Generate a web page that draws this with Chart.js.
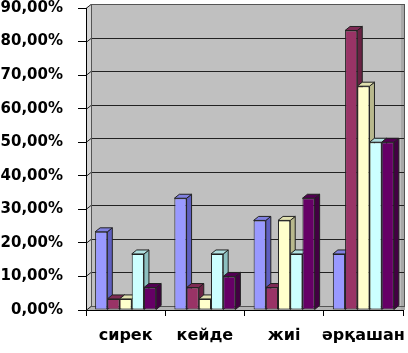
<!DOCTYPE html>
<html>
<head>
<meta charset="utf-8">
<script src="https://cdn.jsdelivr.net/npm/chart.js@4"></script>
<style>
html,body{margin:0;padding:0;background:#fff;}
#wrap{width:408px;height:353px;}
</style>
</head>
<body>
<div id="wrap"><canvas id="c" width="408" height="353"></canvas></div>
<script>
const categories = ['сирек', 'кейде', 'жиі', 'әрқашан'];
const series1 = [23.3, 33.3, 26.7, 16.7];
const series2 = [3.3, 6.7, 6.7, 83.3];
const series3 = [3.3, 3.3, 26.7, 66.7];
const series4 = [16.7, 16.7, 16.7, 50.0];
const series5 = [6.7, 10.0, 33.3, 50.0];
const yTickValues = [0, 10, 20, 30, 40, 50, 60, 70, 80, 90];

const fronts = ['#9999FF', '#993366', '#FFFFCC', '#CCFFFF', '#660066'];
const sides  = ['#5F5FC0', '#6A2244', '#B8B88C', '#8CC0C0', '#420042'];
const tops   = ['#8080E0', '#7E2A54', '#E0E0B0', '#B0E0E0', '#520052'];
const DX = 5, DY = 4;

const threeD = {
  id: 'threeD',
  beforeDraw(chart) {
    const ctx = chart.ctx, a = chart.chartArea, y = chart.scales.y;
    ctx.save();
    ctx.fillStyle = '#C0C0C0';
    ctx.fillRect(a.left + DX, a.top - DY, a.right - a.left - DX + 2, a.bottom - a.top);
    // left wall (lighter)
    ctx.fillStyle = '#D4D4D4';
    ctx.beginPath();
    ctx.moveTo(a.left, a.top); ctx.lineTo(a.left + DX, a.top - DY);
    ctx.lineTo(a.left + DX, a.bottom - DY); ctx.lineTo(a.left, a.bottom);
    ctx.closePath(); ctx.fill();
    // floor
    ctx.fillStyle = '#B4B4B4';
    ctx.beginPath();
    ctx.moveTo(a.left, a.bottom); ctx.lineTo(a.left + DX, a.bottom - DY);
    ctx.lineTo(a.right + 2, a.bottom - DY); ctx.lineTo(a.right + 2, a.bottom);
    ctx.closePath(); ctx.fill();
    // right edge strip
    ctx.fillStyle = '#A8A8A8';
    ctx.fillRect(a.right - 2, a.top - DY, 4, a.bottom - a.top + DY);
    ctx.strokeStyle = '#222';
    ctx.lineWidth = 1;
    yTickValues.forEach(v => {
      const py = Math.round(y.getPixelForValue(v)) + 0.5;
      ctx.beginPath();
      ctx.moveTo(a.left, py);
      ctx.lineTo(a.left + DX, py - DY);
      ctx.lineTo(a.right + 2, py - DY);
      ctx.stroke();
    });
    ctx.strokeStyle = '#555';
    ctx.strokeRect(a.left + DX + 0.5, a.top - DY + 0.5, a.right - a.left - DX + 1, a.bottom - a.top);
    ctx.restore();
  },
  beforeDatasetsDraw(chart) {
    const ctx = chart.ctx;
    const n = chart.data.datasets.length;
    ctx.save();
    ctx.lineWidth = 1;
    ctx.strokeStyle = '#222';
    for (let j = 0; j < categories.length; j++) {
      for (let i = 0; i < n; i++) {
        const el = chart.getDatasetMeta(i).data[j];
        const x0 = el.x - el.width / 2, x1 = el.x + el.width / 2;
        const yt = el.y, yb = el.base;
        ctx.fillStyle = sides[i];
        ctx.beginPath();
        ctx.moveTo(x1, yt); ctx.lineTo(x1 + DX, yt - DY);
        ctx.lineTo(x1 + DX, yb - DY); ctx.lineTo(x1, yb);
        ctx.closePath(); ctx.fill(); ctx.stroke();
        ctx.fillStyle = tops[i];
        ctx.beginPath();
        ctx.moveTo(x0, yt); ctx.lineTo(x0 + DX, yt - DY);
        ctx.lineTo(x1 + DX, yt - DY); ctx.lineTo(x1, yt);
        ctx.closePath(); ctx.fill(); ctx.stroke();
      }
    }
    ctx.restore();
  }
};

new Chart(document.getElementById('c'), {
  type: 'bar',
  data: {
    labels: categories,
    datasets: [series1, series2, series3, series4, series5].map((d, i) => ({
      data: d,
      backgroundColor: fronts[i],
      borderColor: '#222',
      borderWidth: 1,
      borderSkipped: false,
      barPercentage: 1.0,
      categoryPercentage: 0.77
    }))
  },
  options: {
    responsive: false,
    animation: false,
    layout: { padding: { top: 8, right: 5, left: 0, bottom: 0 } },
    plugins: { legend: { display: false }, tooltip: { enabled: false } },
    scales: {
      x: {
        afterFit(s) { s.height = 43; s.paddingLeft = 0; s.paddingRight = 0; },
        grid: { offset: true, drawOnChartArea: false, drawTicks: true, tickLength: 6, color: '#000' },
        border: { display: true, color: '#000', width: 1 },
        ticks: { color: '#000', padding: 10, maxRotation: 0, minRotation: 0, autoSkip: false,
                 font: { family: 'DejaVu Sans', weight: 'bold', size: 16 } }
      },
      y: {
        min: 0, max: 90,
        afterFit(s) { s.width = 86; s.paddingTop = 0; s.paddingBottom = 0; },
        afterBuildTicks(s) { s.ticks = yTickValues.map(v => ({ value: v })); },
        grid: { drawOnChartArea: false, drawTicks: true, tickLength: 8, color: '#000' },
        border: { display: true, color: '#000', width: 1 },
        ticks: {
          color: '#000', padding: 15,
          font: { family: 'DejaVu Sans', weight: 'bold', size: 15 },
          callback: v => v.toFixed(2).replace('.', ',') + '%'
        }
      }
    }
  },
  plugins: [threeD]
});
</script>
</body>
</html>
